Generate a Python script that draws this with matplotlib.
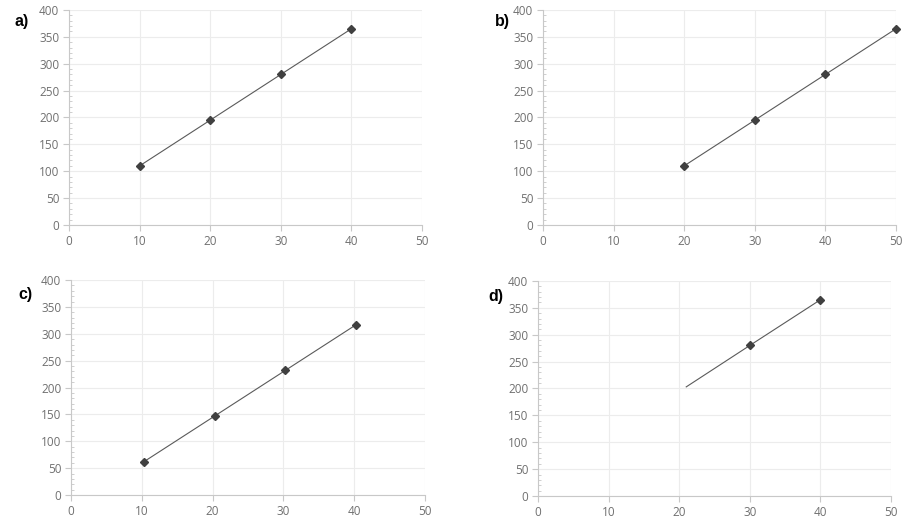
import matplotlib
matplotlib.use("Agg")
import matplotlib.pyplot as plt
import numpy as np
from matplotlib.ticker import MultipleLocator

# Data
a_x = [10, 20, 30, 40]
a_y = [110, 195, 280, 365]
b_x = [20, 30, 40, 50]
b_y = [110, 195, 280, 365]
c_x = [10.3, 20.3, 30.3, 40.3]
c_y = [62, 147, 232, 317]
d_line_x = [21, 30, 40]
d_line_y = [203, 280, 365]
d_x = [30, 40]
d_y = [280, 365]
panel_labels = ["a)", "b)", "c)", "d)"]

fig = plt.figure(figsize=(9.12, 5.19), dpi=100)
fig.patch.set_facecolor("white")

positions = [
    [0.0757, 0.5665, 0.387, 0.4143],
    [0.5954, 0.5665, 0.387, 0.4143],
    [0.0779, 0.0462, 0.388, 0.4143],
    [0.5899, 0.0443, 0.387, 0.4143],
]
label_pos = [(0.016, 0.958), (0.543, 0.958), (0.020, 0.432), (0.536, 0.428)]

spine_col = "#c8c8c8"
grid_col = "#ececec"
tick_col = "#707070"
line_col = "#5a5a5a"
mark_col = "#404040"

series = [
    (a_x, a_y, a_x, a_y),
    (b_x, b_y, b_x, b_y),
    (c_x, c_y, c_x, c_y),
    (d_line_x, d_line_y, d_x, d_y),
]

for i, pos in enumerate(positions):
    ax = fig.add_axes(pos)
    ax.set_xlim(0, 50)
    ax.set_ylim(0, 400)
    ax.xaxis.set_major_locator(MultipleLocator(10))
    ax.yaxis.set_major_locator(MultipleLocator(50))
    ax.yaxis.set_minor_locator(MultipleLocator(10))
    ax.grid(True, which="major", color=grid_col, linewidth=0.8)
    ax.set_axisbelow(True)
    for s in ["top", "right"]:
        ax.spines[s].set_visible(False)
    for s in ["left", "bottom"]:
        ax.spines[s].set_color(spine_col)
        ax.spines[s].set_linewidth(0.8)
    ax.tick_params(axis="both", which="major", length=4, width=0.8, color=spine_col,
                   labelcolor=tick_col, labelsize=8.5, pad=3)
    ax.tick_params(axis="y", which="minor", direction="in", length=2, width=0.6, color=spine_col)
    for lab in ax.get_xticklabels() + ax.get_yticklabels():
        lab.set_family("Open Sans")
    lx, ly, mx, my = series[i]
    ax.plot(lx, ly, color=line_col, linewidth=0.8, clip_on=False)
    ax.plot(mx, my, linestyle="none", marker="D", markersize=4, color=mark_col, clip_on=False)
    fig.text(label_pos[i][0], label_pos[i][1], panel_labels[i], fontsize=11.5,
             fontweight="bold", family="Liberation Sans", color="black", va="center")

fig.savefig("out.png", dpi=100)
